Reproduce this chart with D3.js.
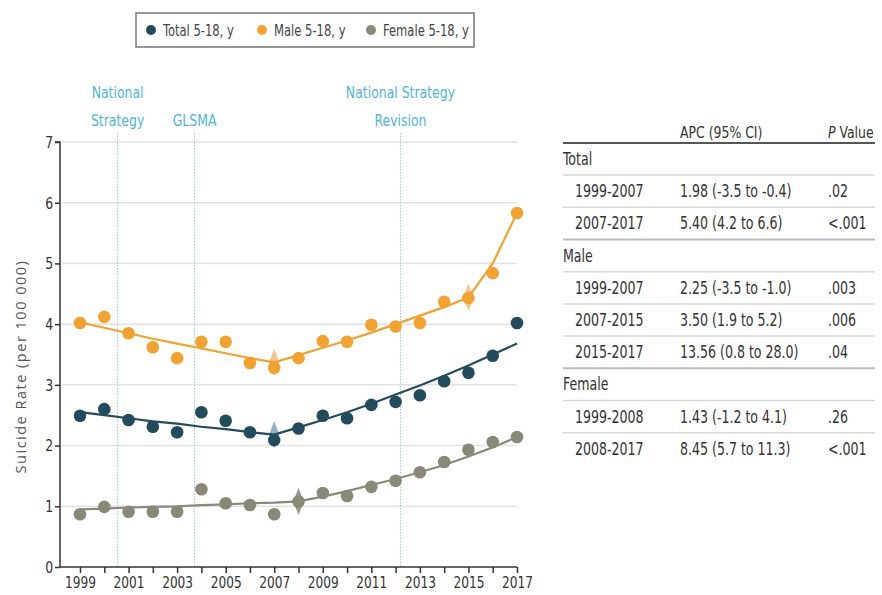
<!DOCTYPE html>
<html>
<head>
<meta charset="utf-8">
<script src="https://cdn.jsdelivr.net/npm/d3@7"></script>
<style>
  html, body { margin: 0; padding: 0; background: #fff; }
  svg { display: block; }
  .nar { font-family: "DejaVu Sans Condensed", "DejaVu Sans", sans-serif; font-stretch: condensed; }
</style>
</head>
<body>
<svg id="chart" width="882" height="595"></svg>
<script>
// ---------- data ----------
const years = [1999,2000,2001,2002,2003,2004,2005,2006,2007,2008,2009,2010,2011,2012,2013,2014,2015,2016,2017];
const totalRate  = [2.49,2.60,2.42,2.31,2.22,2.55,2.41,2.22,2.09,2.28,2.49,2.45,2.67,2.72,2.83,3.06,3.20,3.48,4.02];
const maleRate   = [4.02,4.12,3.85,3.62,3.44,3.71,3.71,3.36,3.28,3.44,3.72,3.71,3.99,3.96,4.02,4.37,4.43,4.84,5.83];
const femaleRate = [0.87,0.99,0.91,0.91,0.91,1.28,1.05,1.02,0.87,1.08,1.22,1.17,1.32,1.42,1.56,1.73,1.93,2.06,2.14];
const totalFit   = [2.55,2.50,2.45,2.40,2.36,2.31,2.27,2.22,2.18,2.30,2.42,2.55,2.69,2.84,2.99,3.15,3.32,3.50,3.68];
const maleFit    = [4.03,3.94,3.85,3.76,3.68,3.60,3.52,3.44,3.37,3.49,3.61,3.73,3.86,4.00,4.14,4.28,4.44,5.00,5.83];
const femaleFit  = [0.95,0.96,0.98,0.99,1.00,1.02,1.03,1.05,1.06,1.08,1.16,1.25,1.35,1.45,1.56,1.68,1.82,1.97,2.14];
const seriesNames = ["Total 5-18, y","Male 5-18, y","Female 5-18, y"];
const seriesColors = ["#234b5b","#f0a332","#8b8878"];
const diamondColors = ["#86a9bc","#f4c080","#8f8c7d"];
// joinpoints: [series index, year]
const joinpoints = [[0,2007],[1,2007],[1,2015],[2,2008]];
const eventYears = [2000.55,2003.72,2012.2];
const eventLabels = [["National","Strategy"],["GLSMA"],["National Strategy","Revision"]];
const yTicks = [0,1,2,3,4,5,6,7];
const xLabelYears = [1999,2001,2003,2005,2007,2009,2011,2013,2015,2017];
// table
const tableHeader = ["APC (95% CI)","P Value"];
const tableGroups = ["Total","Male","Female"];
const tablePeriods = [["1999-2007","2007-2017"],["1999-2007","2007-2015","2015-2017"],["1999-2008","2008-2017"]];
const tableAPC = [["1.98 (-3.5 to -0.4)","5.40 (4.2 to 6.6)"],["2.25 (-3.5 to -1.0)","3.50 (1.9 to 5.2)","13.56 (0.8 to 28.0)"],["1.43 (-1.2 to 4.1)","8.45 (5.7 to 11.3)"]];
const tableP = [[".02","<.001"],[".003",".006",".04"],[".26","<.001"]];

// ---------- layout ----------
const svg = d3.select("#chart");
const x = d3.scaleLinear().domain([1999,2017]).range([80,517]);
const y = d3.scaleLinear().domain([0,7]).range([567,142]);
const axisLeftX = 60, plotRight = 517;

// narrow text helper: horizontal squeeze to mimic a condensed face
function ntext(parent, px, py, str, size, sx, anchor) {
  return parent.append("text").attr("class","nar")
    .attr("transform", `translate(${px},${py}) scale(${sx},1)`)
    .attr("text-anchor", anchor || "start")
    .attr("font-size", size).attr("fill", "#333").text(str);
}

// gridlines
svg.append("g").selectAll("line").data(yTicks.filter(d => d > 0)).join("line")
  .attr("x1", axisLeftX + 2).attr("x2", plotRight)
  .attr("y1", d => y(d)).attr("y2", d => y(d))
  .attr("stroke", "#e2e2e2").attr("stroke-width", 1.5);

// event lines
svg.append("g").selectAll("line").data(eventYears).join("line")
  .attr("x1", d => x(d)).attr("x2", d => x(d))
  .attr("y1", 133).attr("y2", 567)
  .attr("stroke", "#8ccbe3").attr("stroke-width", 1)
  .attr("stroke-dasharray", "1.5,1.5");

// event labels
eventLabels.forEach((lines, i) => {
  const start = lines.length === 2 ? 98 : 126;
  lines.forEach((l, j) => {
    ntext(svg, x(eventYears[i]), start + j*28, l, 16.5, 0.84, "middle").attr("fill", "#4fb4d8");
  });
});

// axes
const yAxis = d3.axisLeft(y).tickValues(yTicks).tickSize(5).tickPadding(3).tickFormat(d3.format("d"));
const gy = svg.append("g").attr("transform", `translate(${axisLeftX},0)`).call(yAxis);
gy.select(".domain").attr("stroke","#333").attr("stroke-width",1.5).attr("d", `M-5,${y(7)}H0V${y(0)}`);
gy.selectAll(".tick line").attr("stroke","#333").attr("stroke-width",1.5);
gy.selectAll(".tick text").attr("class","nar").attr("font-size",16.5).attr("fill","#333")
  .attr("transform","scale(0.84,1)");

const xAxis = d3.axisBottom(x).tickValues(years).tickSize(6).tickPadding(3)
  .tickFormat(d => xLabelYears.includes(d) ? String(d) : "");
const gx = svg.append("g").attr("transform", `translate(0,${y(0)})`).call(xAxis);
gx.select(".domain").attr("stroke","#333").attr("stroke-width",1.5).attr("d", `M${axisLeftX},0H${plotRight}`);
gx.selectAll(".tick line").attr("stroke","#333").attr("stroke-width",1.5);
gx.selectAll(".tick text").attr("class","nar").attr("font-size",16.5).attr("fill","#333")
  .attr("transform","scale(0.82,1)");

// y axis title
svg.append("text")
  .attr("transform", `translate(26,${(y(0)+y(7))/2 + 12}) rotate(-90)`)
  .attr("text-anchor","middle")
  .attr("font-family","'Open Sans', sans-serif").attr("font-size",14.5)
  .attr("letter-spacing",1.5).attr("fill","#555")
  .text("Suicide Rate (per 100 000)");

// series
const rates = [totalRate, maleRate, femaleRate];
const fits = [totalFit, maleFit, femaleFit];
const line = d3.line().x((d,i) => x(years[i])).y(d => y(d));

// narrow diamonds at joinpoints (behind the points)
const narrowDiamond = {
  draw(ctx, size) {
    const h = Math.sqrt(size) * 1.6, w = h * 0.38;
    ctx.moveTo(0, -h / 2); ctx.lineTo(w / 2, 0); ctx.lineTo(0, h / 2); ctx.lineTo(-w / 2, 0); ctx.closePath();
  }
};
const diamond = d3.symbol().type(narrowDiamond).size(290);
svg.append("g").selectAll("path").data(joinpoints).join("path")
  .attr("d", diamond)
  .attr("transform", d => `translate(${x(d[1])},${y(fits[d[0]][years.indexOf(d[1])])})`)
  .attr("fill", d => diamondColors[d[0]]).attr("opacity", 0.9);

fits.forEach((f, s) => {
  svg.append("path").datum(f).attr("d", line)
    .attr("fill","none").attr("stroke", seriesColors[s]).attr("stroke-width", 2.2);
});
rates.forEach((r, s) => {
  svg.append("g").selectAll("circle").data(r).join("circle")
    .attr("cx", (d,i) => x(years[i])).attr("cy", d => y(d)).attr("r", 6.3)
    .attr("fill", seriesColors[s]);
});

// legend
svg.append("rect").attr("x",136).attr("y",13).attr("width",338).attr("height",34)
  .attr("fill","#fff").attr("stroke","#777").attr("stroke-width",1.5);
const legX = [151, 262, 371];
seriesNames.forEach((n, i) => {
  svg.append("circle").attr("cx", legX[i]).attr("cy", 30).attr("r", 5).attr("fill", seriesColors[i]);
  ntext(svg, legX[i] + 12, 35.5, n, 15.5, 0.83).attr("fill","#444");
});

// table
const tX0 = 563, tX1 = 875, colPeriod = 575, colAPC = 680, colP = 828;
ntext(svg, colAPC, 138, tableHeader[0], 16.5, 0.84);
const ph = ntext(svg, colP, 138, "", 16.5, 0.84);
ph.append("tspan").attr("font-style","italic").text(tableHeader[1].slice(0,1));
ph.append("tspan").text(tableHeader[1].slice(1));
svg.append("line").attr("x1",tX0).attr("x2",tX1).attr("y1",143).attr("y2",143)
  .attr("stroke","#555").attr("stroke-width",2);

const pitch = 32.2;
let row = 0;
const rowY = r => 159 + r*pitch;
const tSize = 17.5, tSx = 0.8;
tableGroups.forEach((g, gi) => {
  if (gi > 0) {
    svg.append("line").attr("x1",tX0).attr("x2",tX1)
      .attr("y1", rowY(row) - pitch/2).attr("y2", rowY(row) - pitch/2)
      .attr("stroke","#bdbdbd").attr("stroke-width",2);
  }
  ntext(svg, tX0, rowY(row) + 6, g, tSize, tSx);
  row++;
  tablePeriods[gi].forEach((p, pi) => {
    svg.append("line").attr("x1",tX0).attr("x2",tX1)
      .attr("y1", rowY(row) - pitch/2).attr("y2", rowY(row) - pitch/2)
      .attr("stroke","#d8d8d8").attr("stroke-width",1.5);
    const yy = rowY(row) + 6;
    ntext(svg, colPeriod, yy, p, tSize, tSx);
    ntext(svg, colAPC, yy, tableAPC[gi][pi], tSize, tSx);
    ntext(svg, colP, yy, tableP[gi][pi], tSize, tSx);
    row++;
  });
});
</script>
</body>
</html>
